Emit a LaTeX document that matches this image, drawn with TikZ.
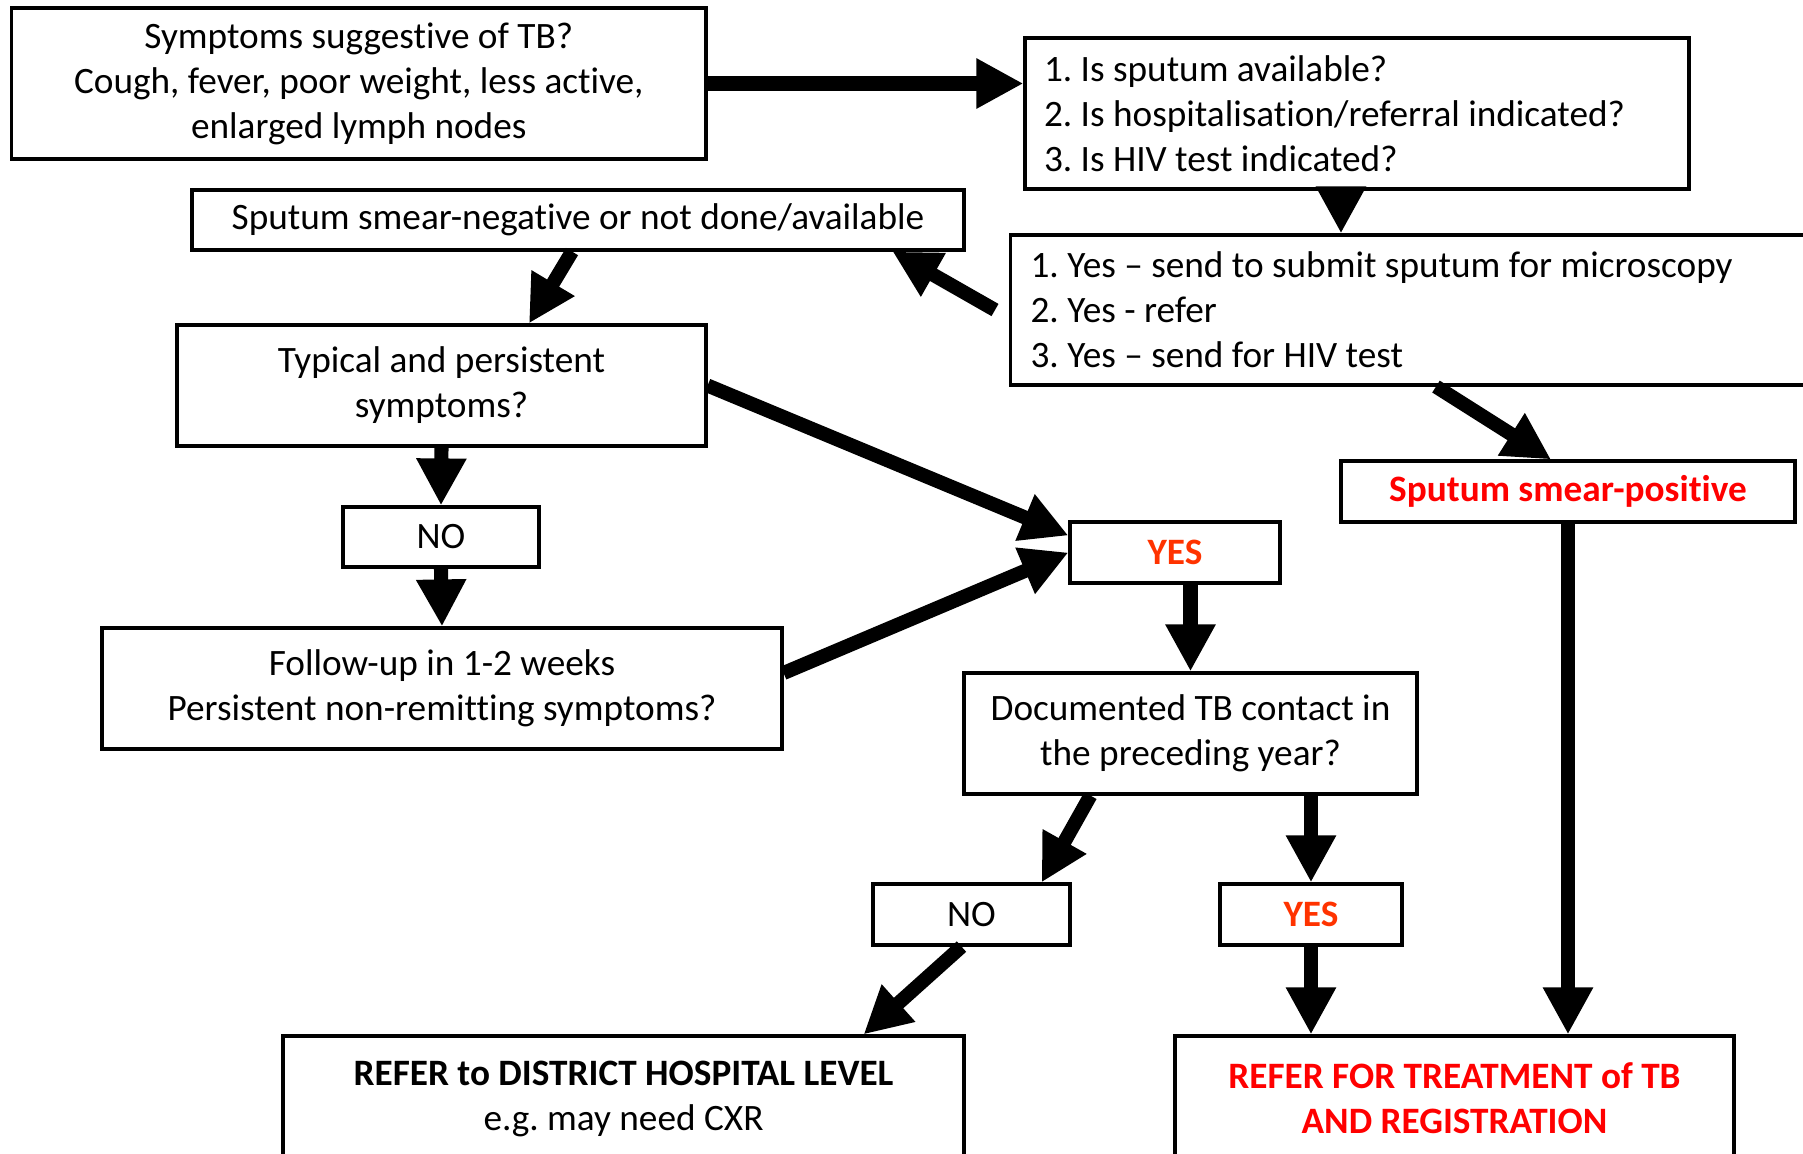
\documentclass[tikz,border=0pt]{standalone}
\usepackage{fontspec}
\setmainfont{Carlito}[Ligatures=CommonOff]
\frenchspacing
\usetikzlibrary{arrows.meta}
\definecolor{yesred}{RGB}{255,51,0}
\tikzset{
  box/.style={draw, line width=0.9pt, align=center, font=\fontsize{10.6}{12.8}\selectfont},
  arr/.style={line width=4pt, -{Triangle[length=0.47cm,width=0.47cm]}},
}

\begin{document}
\begin{tikzpicture}
    \useasboundingbox (0,0) rectangle (18.03,-11.54);
    \clip (0,0) rectangle (18.03,-11.54);
    \node[box, minimum width=6.945cm, minimum height=1.51cm] (sym) at (3.5875,-0.835) {Symptoms suggestive of TB?\\Cough, fever, poor weight, less active,\\enlarged lymph nodes}; % start
    \node[box, text width=6.26cm, inner xsep=0.19cm, minimum height=1.51cm, align=flush left] (q) at (13.57,-1.135) {1. Is sputum available?\\2. Is hospitalisation/referral indicated?\\3. Is HIV test indicated?}; % questions
    \node[box, minimum width=7.72cm, minimum height=0.60cm] (neg) at (5.78,-2.20) {Sputum smear-negative or not done/available};
    \node[box, anchor=west, text width=8.6cm, inner xsep=0.2cm, minimum height=1.50cm, align=flush left] (ans) at (10.09,-3.10) {1. Yes -- send to submit sputum for microscopy\\2. Yes - refer\\3. Yes -- send for HIV test}; % answers
    \node[box, minimum width=5.29cm, minimum height=1.21cm] (typ) at (4.415,-3.855) {Typical and persistent\\symptoms?};
    \node[box, minimum width=1.96cm, minimum height=0.60cm] (no1) at (4.41,-5.37) {NO};
    \node[box, minimum width=2.10cm, minimum height=0.61cm, text=yesred, font=\fontsize{10.6}{12.8}\selectfont\bfseries] (yes1) at (11.75,-5.525) {YES};
    \node[box, minimum width=4.54cm, minimum height=0.61cm, text=red, font=\fontsize{10.6}{12.8}\selectfont\bfseries] (sp) at (15.68,-4.915) {Sputum smear-positive};
    \node[box, minimum width=6.80cm, minimum height=1.21cm] (fu) at (4.42,-6.885) {Follow-up in 1-2 weeks\\Persistent non-remitting symptoms?};
    \node[box, minimum width=4.53cm, minimum height=1.21cm] (doc) at (11.905,-7.335) {Documented TB contact in\\the preceding year?};
    \node[box, minimum width=1.97cm, minimum height=0.61cm] (no2) at (9.715,-9.145) {NO};
    \node[box, minimum width=1.82cm, minimum height=0.61cm, text=yesred, font=\fontsize{10.6}{12.8}\selectfont\bfseries] (yes2) at (13.11,-9.145) {YES};
    \node[box, minimum width=6.81cm, minimum height=1.25cm] (refD) at (6.235,-10.985) {\textbf{REFER to DISTRICT HOSPITAL LEVEL}\\e.g. may need CXR}; % district
    \node[box, minimum width=5.59cm, minimum height=1.25cm, text=red, font=\fontsize{10.6}{12.8}\selectfont\bfseries] (refT) at (14.545,-10.985) {REFER FOR TREATMENT of TB\\AND REGISTRATION}; % treatment

    \draw[arr] (sym.east) -- (sym.east -| q.west); % to questions
    \draw[arr] ([xshift=-0.16cm]q.south) -- ([xshift=-0.16cm]q.south |- ans.north);
    \draw[arr] ([xshift=-0.14cm]ans.west) -- ([xshift=-0.73cm]neg.south east);
    \draw[arr] ([xshift=-0.06cm]neg.south) -- ([xshift=0.875cm]typ.north);
    \draw[arr] (typ.east) -- ([yshift=0.17cm]yes1.west);
    \draw[arr] (typ.south) -- (no1.north);
    \draw[arr] (no1.south) -- (fu.north);
    \draw[arr] ([yshift=0.155cm]fu.east) -- (yes1.west);
    \draw[arr] (yes1.south -| doc.north) -- (doc.north);
    \draw[arr] ([xshift=4.27cm]ans.south west) -- ([xshift=-0.17cm]sp.north); % to smear-positive
    \draw[arr] (sp.south) -- (sp.south |- refT.north);
    \draw[arr] ([xshift=1.28cm]doc.south west) -- ([xshift=-0.3cm]no2.north east);
    \draw[arr] (yes2.north |- doc.south) -- (yes2.north);
    \draw[arr] ([xshift=-0.1cm]no2.south) -- ([xshift=-1.02cm]refD.north east);
    \draw[arr] (yes2.south) -- (yes2.south |- refT.north);
\end{tikzpicture}
\end{document}
